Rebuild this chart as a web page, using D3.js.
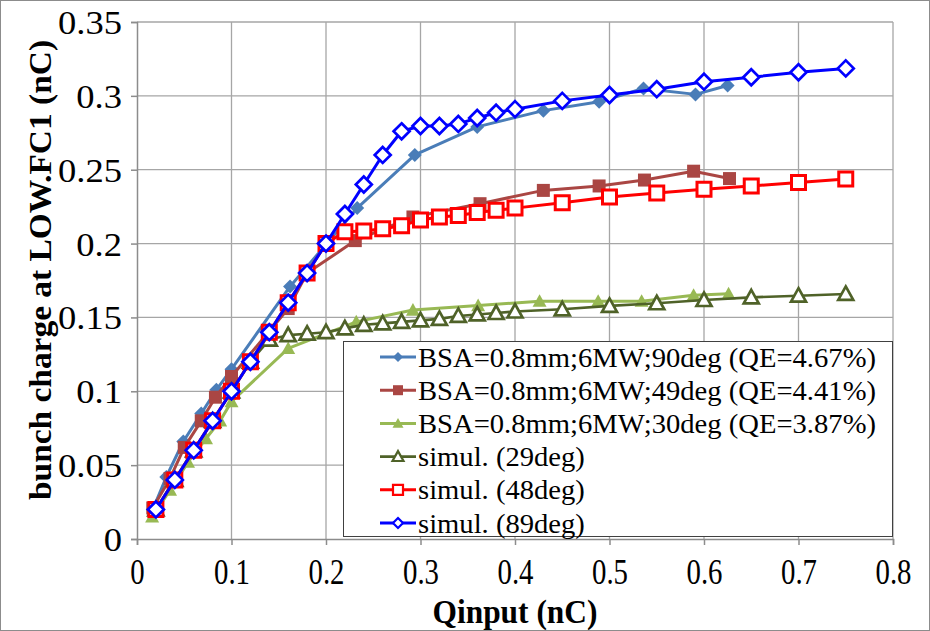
<!DOCTYPE html>
<html>
<head>
<meta charset="utf-8">
<script src="https://cdn.jsdelivr.net/npm/d3@7/dist/d3.min.js"></script>
<style>
  html, body { margin: 0; padding: 0; background: #fff; }
  svg { display: block; }
  svg text { font-family: "Liberation Serif", "Times New Roman", Tinos, "DejaVu Serif", serif; fill: #000; }
</style>
</head>
<body>
<svg id="chart" width="930" height="631"></svg>
<script>
// Measured bunch charge versus input charge (nC)
const exp90X = [0.0167, 0.031, 0.049, 0.068, 0.084, 0.1, 0.162, 0.233, 0.294, 0.36, 0.43, 0.489, 0.536, 0.591, 0.625];
const exp90Y = [0.02, 0.042, 0.066, 0.085, 0.101, 0.115, 0.171, 0.224, 0.26, 0.279, 0.29, 0.296, 0.305, 0.301, 0.307];

const exp49X = [0.0167, 0.035, 0.05, 0.068, 0.083, 0.1, 0.16, 0.18, 0.231, 0.292, 0.363, 0.43, 0.489, 0.537, 0.589, 0.627];
const exp49Y = [0.021, 0.041, 0.062, 0.08, 0.096, 0.11, 0.156, 0.18, 0.202, 0.218, 0.227, 0.236, 0.239, 0.243, 0.249, 0.244];

const exp30X = [0.016, 0.035, 0.054, 0.073, 0.088, 0.1, 0.16, 0.232, 0.292, 0.361, 0.426, 0.488, 0.534, 0.589, 0.626];
const exp30Y = [0.015, 0.033, 0.052, 0.068, 0.08, 0.093, 0.129, 0.147, 0.155, 0.158, 0.161, 0.161, 0.161, 0.165, 0.166];

// Simulated bunch charge on a common input grid
const simX = [0.02, 0.04, 0.06, 0.08, 0.1, 0.12, 0.14, 0.16, 0.18, 0.2, 0.22, 0.24, 0.26, 0.28, 0.3,
              0.32, 0.34, 0.36, 0.38, 0.4, 0.45, 0.5, 0.55, 0.6, 0.65, 0.7, 0.75];
const sim29Y = [0.02, 0.04, 0.06, 0.08, 0.1, 0.12, 0.135, 0.138, 0.139, 0.14, 0.1426, 0.145, 0.146, 0.147, 0.148,
                0.149, 0.151, 0.152, 0.153, 0.154, 0.1555, 0.1578, 0.1596, 0.1618, 0.1636, 0.1647, 0.1659];
const sim48Y = [0.02, 0.04, 0.06, 0.08, 0.1, 0.12, 0.14, 0.16, 0.18, 0.2, 0.208, 0.2085, 0.21, 0.212, 0.216,
                0.218, 0.219, 0.221, 0.2225, 0.224, 0.2277, 0.2316, 0.2343, 0.2367, 0.239, 0.2413, 0.2437];
const sim89Y = [0.02, 0.04, 0.06, 0.08, 0.1, 0.12, 0.14, 0.16, 0.18, 0.2, 0.22, 0.24, 0.26, 0.276, 0.2796,
                0.2796, 0.281, 0.285, 0.2886, 0.291, 0.2966, 0.3006, 0.3045, 0.3096, 0.3126, 0.316, 0.3186];

const xTicks = [0, 0.1, 0.2, 0.3, 0.4, 0.5, 0.6, 0.7, 0.8];
const yTicks = [0, 0.05, 0.1, 0.15, 0.2, 0.25, 0.3, 0.35];

const seriesNames = [
  "BSA=0.8mm;6MW;90deg (QE=4.67%)",
  "BSA=0.8mm;6MW;49deg (QE=4.41%)",
  "BSA=0.8mm;6MW;30deg (QE=3.87%)",
  "simul. (29deg)",
  "simul. (48deg)",
  "simul. (89deg)"
];

const SERIF = "'Liberation Serif', 'Times New Roman', Tinos, 'DejaVu Serif', serif";

const zip = (xs, ys) => xs.map((x, i) => ({ x: x, y: ys[i] }));

const series = [
  { name: seriesNames[0], data: zip(exp90X, exp90Y), color: "#4a7db8", width: 3, shape: "diamond", size: 14, fill: "#4a7db8", sw: 0 },
  { name: seriesNames[1], data: zip(exp49X, exp49Y), color: "#aa4643", width: 3, shape: "square", size: 13, fill: "#aa4643", sw: 0 },
  { name: seriesNames[2], data: zip(exp30X, exp30Y), color: "#98b954", width: 3, shape: "triangle", size: 14, fill: "#98b954", sw: 0 },
  { name: seriesNames[3], data: zip(simX, sim29Y), color: "#4f6228", width: 2.6, shape: "triangle", size: 15, fill: "#fff", sw: 2.7 },
  { name: seriesNames[4], data: zip(simX, sim48Y), color: "#ff0000", width: 3, shape: "square", size: 14, fill: "#fff", sw: 3 },
  { name: seriesNames[5], data: zip(simX, sim89Y), color: "#0000ff", width: 3, shape: "diamond", size: 16, fill: "#fff", sw: 2.7 }
];

const svg = d3.select("#chart").attr("font-family", SERIF);

// squeeze or stretch a text element to a given rendered width
function fitWidth(sel, widthFn) {
  sel.each(function (d, i) {
    const w = widthFn.call(this, this.getComputedTextLength(), d, i);
    d3.select(this).attr("textLength", w).attr("lengthAdjust", "spacingAndGlyphs");
  });
}

// outer frame
svg.append("rect").attr("x", 0.5).attr("y", 0.5).attr("width", 929).attr("height", 630)
  .attr("fill", "#fff").attr("stroke", "#8c8c8c").attr("stroke-width", 1);

const x = d3.scaleLinear().domain([0, 0.8]).range([137, 893]);
const y = d3.scaleLinear().domain([0, 0.35]).range([539, 22]);

// gridlines
const grid = svg.append("g");
grid.selectAll("line.gx").data(xTicks.slice(1)).join("line")
  .attr("x1", d => x(d)).attr("x2", d => x(d)).attr("y1", y(0.35)).attr("y2", y(0))
  .attr("stroke", "#a6a6a6").attr("stroke-width", 1.3);
grid.selectAll("line.gy").data(yTicks.slice(1)).join("line")
  .attr("x1", x(0)).attr("x2", x(0.8)).attr("y1", d => y(d)).attr("y2", d => y(d))
  .attr("stroke", "#a6a6a6").attr("stroke-width", 1.3);

// axes
const xAxis = d3.axisBottom(x).tickValues(xTicks).tickFormat(d => d3.format("")(d)).tickSize(6).tickPadding(15);
const yAxis = d3.axisLeft(y).tickValues(yTicks).tickFormat(d => d3.format("")(d)).tickSize(6).tickPadding(9);

const gx = svg.append("g").attr("transform", `translate(0,${y(0)})`).call(xAxis);
const gy = svg.append("g").attr("transform", `translate(${x(0)},0)`).call(yAxis);
[gx, gy].forEach(g => {
  g.attr("font-family", SERIF).attr("font-size", 34);
  g.select(".domain").attr("stroke", "#8c8c8c").attr("stroke-width", 1.5);
  g.selectAll(".tick line").attr("stroke", "#8c8c8c").attr("stroke-width", 1.5);
  g.selectAll("text").attr("fill", "#000");
});
gx.selectAll("text").attr("font-size", 35).attr("dy", "0.68em");
gy.selectAll("text").attr("dy", "0.34em");

// y tick labels: "0.35" spans about 64 px; x tick labels are set in a condensed width
const yRef = gy.selectAll(".tick text").filter(d => d === 0.35).node().getComputedTextLength();
fitWidth(gy.selectAll(".tick text"), len => len * 64 / yRef);
const xRef = gx.selectAll(".tick text").filter(d => d === 0.1).node().getComputedTextLength();
fitWidth(gx.selectAll(".tick text"), len => len * 36 / xRef);

// axis titles
const xTitle = svg.append("text").attr("x", 515).attr("y", 623).attr("text-anchor", "middle")
  .attr("font-size", 34).attr("font-weight", "bold").text("Qinput (nC)");
fitWidth(xTitle, () => 165);
const yTitle = svg.append("text").attr("transform", "translate(51,270) rotate(-90)")
  .attr("text-anchor", "middle").attr("font-size", 32).attr("font-weight", "bold")
  .text("bunch charge at LOW.FC1 (nC)");
fitWidth(yTitle, () => 460);

// marker shapes
function markerPath(shape, s) {
  const h = s / 2;
  if (shape === "diamond") return `M0,${-h}L${h},0L0,${h}L${-h},0Z`;
  if (shape === "square") return `M${-h},${-h}H${h}V${h}H${-h}Z`;
  const t = s * 0.5;
  return `M0,${-t}L${h},${t * 0.8}L${-h},${t * 0.8}Z`;
}

const line = d3.line().x(d => x(d.x)).y(d => y(d.y));
const plot = svg.append("g");

series.forEach(s => {
  const g = plot.append("g");
  g.append("path").datum(s.data).attr("d", line)
    .attr("fill", "none").attr("stroke", s.color).attr("stroke-width", s.width)
    .attr("stroke-linejoin", "round");
  g.selectAll("path.m").data(s.data).join("path").attr("class", "m")
    .attr("transform", d => `translate(${x(d.x)},${y(d.y)})`)
    .attr("d", markerPath(s.shape, s.size))
    .attr("fill", s.fill).attr("stroke", s.sw ? s.color : "none").attr("stroke-width", s.sw);
});

// legend
const leg = svg.append("g");
leg.append("rect").attr("x", 343.5).attr("y", 341.5).attr("width", 549).attr("height", 195)
  .attr("fill", "#fff").attr("stroke", "#404040").attr("stroke-width", 1);
const legTexts = [];
series.forEach((s, i) => {
  const cy = 357 + i * 33.2;
  const g = leg.append("g");
  g.append("line").attr("x1", 380).attr("x2", 416).attr("y1", cy).attr("y2", cy)
    .attr("stroke", s.color).attr("stroke-width", s.width);
  g.append("path").attr("transform", `translate(398,${cy})`)
    .attr("d", markerPath(s.shape, s.shape === "triangle" ? 11 : 10))
    .attr("fill", s.fill).attr("stroke", s.sw ? s.color : "none").attr("stroke-width", s.sw ? 2.2 : 0);
  legTexts.push(g.append("text").attr("x", 418).attr("y", cy).attr("dy", "0.34em")
    .attr("font-size", 28).text(s.name).node());
});
const legRef = legTexts[0].getComputedTextLength();
fitWidth(d3.selectAll(legTexts), len => len * 458 / legRef);
</script>
</body>
</html>
